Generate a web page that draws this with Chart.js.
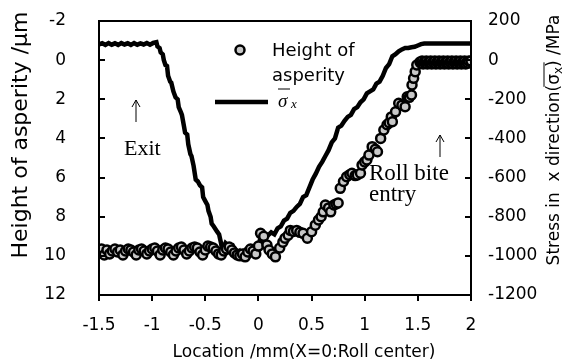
<!DOCTYPE html>
<html>
<head>
<meta charset="utf-8">
<script src="https://cdn.jsdelivr.net/npm/chart.js@4.4.0/dist/chart.umd.min.js"></script>
<style>
  html, body { margin: 0; padding: 0; background: #fff; }
  #wrap { width: 570px; height: 363px; }
</style>
</head>
<body>
<div id="wrap"><canvas id="chart" width="570" height="363"></canvas></div>
<script>
// ---------- data ----------
// stress sigma_x along the roll bite, MPa (right axis)
const stressX = [
  -1.5, -1.47, -1.44, -1.41, -1.38, -1.35, -1.32, -1.29, -1.26, -1.23, -1.2, -1.17, -1.14, -1.11, -1.08, -1.05, -1.02, -0.99, -0.96,
  -0.95, -0.93, -0.92, -0.9, -0.89, -0.875, -0.86, -0.85, -0.83, -0.82, -0.8, -0.78, -0.76, -0.75, -0.73, -0.72, -0.7, -0.69,
  -0.67, -0.66, -0.64, -0.63, -0.61, -0.59, -0.57, -0.55, -0.53, -0.52, -0.5, -0.48, -0.47, -0.45, -0.44, -0.42, -0.39, -0.37,
  -0.36, -0.35, -0.34, -0.33, -0.31, -0.3, -0.27, -0.24, -0.21, -0.18, -0.15, -0.12, -0.09, -0.06, -0.03, 0.0,
  0.02, 0.05, 0.08, 0.12, 0.15, 0.18, 0.21, 0.24, 0.27, 0.3, 0.33, 0.36, 0.39, 0.42, 0.45, 0.48, 0.51, 0.54, 0.57, 0.6,
  0.63, 0.66, 0.69, 0.72, 0.75, 0.78, 0.81, 0.84, 0.87, 0.9, 0.93, 0.96, 0.99, 1.02, 1.05, 1.08, 1.11, 1.14, 1.17, 1.2,
  1.23, 1.26, 1.29, 1.32, 1.35, 1.38, 1.41, 1.44, 1.47, 1.5, 1.53, 1.56, 2.0
];
const stressVal = [
  80, 86, 78, 87, 79, 86, 78, 87, 80, 86, 78, 87, 79, 86, 80, 88, 79, 88, 92,
  70, 62, 40, 30, 0, -25, -30, -80, -110, -115, -160, -190, -200, -240, -265, -280, -340, -370,
  -380, -430, -480, -490, -540, -610, -620, -640, -650, -700, -720, -740, -770, -800, -835, -850, -875, -890,
  -915, -940, -975, -960, -935, -940, -960, -950, -985, -975, -1010, -995, -1005, -990, -975, -960,
  -900, -930, -900, -880, -890, -860, -850, -820, -810, -780, -770, -750, -735, -700, -690, -650, -610, -580, -545, -520,
  -490, -460, -420, -400, -345, -335, -310, -290, -280, -250, -240, -215, -200, -170, -160, -150, -120, -110, -80, -40,
  -20, 20, 30, 45, 55, 62, 62, 66, 68, 75, 82, 85, 85
];

// height of asperity, um (left axis, reversed)
const heightX = [
  -1.5, -1.475, -1.45, -1.425, -1.4, -1.375, -1.35, -1.325, -1.3, -1.275, -1.25, -1.225, -1.2, -1.175, -1.15, -1.125,
  -1.1, -1.075, -1.05, -1.025, -1.0, -0.975, -0.95, -0.925, -0.9, -0.875, -0.85, -0.825, -0.8, -0.775, -0.75, -0.725,
  -0.7, -0.675, -0.65, -0.625, -0.6, -0.575, -0.55, -0.525, -0.5, -0.475, -0.45, -0.425, -0.4, -0.375, -0.35, -0.325,
  -0.3, -0.275, -0.25, -0.225, -0.2, -0.175, -0.15, -0.125, -0.1, -0.075, -0.05, -0.025, 0.0,
  0.02, 0.05, 0.08, 0.1, 0.13, 0.16, 0.2, 0.23, 0.25, 0.28, 0.3, 0.33, 0.36, 0.39, 0.42, 0.46, 0.5, 0.535, 0.565, 0.59,
  0.61, 0.63, 0.66, 0.68, 0.71, 0.73, 0.75, 0.77, 0.8, 0.83, 0.86, 0.88, 0.91, 0.93, 0.96, 0.975, 1.0, 1.02, 1.04, 1.07,
  1.1, 1.12, 1.15, 1.18, 1.21, 1.23, 1.25, 1.26, 1.29, 1.32, 1.35, 1.38, 1.4, 1.42, 1.44, 1.445, 1.46, 1.475, 1.49, 1.52,
  1.53, 1.54, 1.55, 1.56, 1.57, 1.58, 1.59, 1.6, 1.61, 1.62, 1.63, 1.64, 1.65, 1.66, 1.67, 1.68, 1.69, 1.7, 1.71, 1.72,
  1.73, 1.74, 1.75, 1.76, 1.77, 1.78, 1.79, 1.8, 1.81, 1.82, 1.83, 1.84, 1.85, 1.86, 1.87, 1.88, 1.89, 1.9, 1.91, 1.92,
  1.93, 1.94, 1.95, 1.96, 1.97, 1.98, 2.0
];
const heightVal = [
  9.75, 9.65, 9.95, 9.7, 9.9, 9.75, 9.65, 9.8, 9.7, 9.95, 9.75, 9.65, 9.7, 9.8, 9.95, 9.7,
  9.65, 9.75, 9.9, 9.75, 9.65, 9.6, 9.75, 9.95, 9.7, 9.6, 9.65, 9.8, 9.95, 9.75, 9.6, 9.55,
  9.7, 9.9, 9.75, 9.6, 9.55, 9.6, 9.8, 9.95, 9.7, 9.5, 9.55, 9.6, 9.75, 9.9, 9.95, 9.75,
  9.65, 9.55, 9.7, 9.85, 9.95, 10.0, 9.9, 10.05, 9.8, 9.65, 9.75, 9.9, 9.5,
  8.85, 9.0, 9.45, 9.7, 9.9, 10.05, 9.6, 9.3, 9.1, 8.95, 8.7, 8.75, 8.7, 8.8, 8.85, 9.1, 8.77, 8.43, 8.17, 8.0,
  7.75, 7.4, 7.55, 7.75, 7.4, 7.35, 7.3, 6.55, 6.2, 5.96, 5.85, 5.78, 5.9, 5.87, 5.78, 5.36, 5.2, 5.1, 4.85, 4.42,
  4.55, 4.68, 4.0, 3.57, 3.3, 3.2, 2.9, 3.15, 2.64, 2.2, 2.3, 2.38, 1.87, 1.9, 1.78, 1.27, 0.93, 0.59, 0.25, 0.1,
  0.15, 0.05, 0.2, 0.1, 0.15, 0.05, 0.2, 0.1, 0.15, 0.05, 0.2, 0.1, 0.15, 0.05, 0.2, 0.1, 0.15, 0.05, 0.2, 0.1,
  0.15, 0.05, 0.2, 0.1, 0.15, 0.05, 0.2, 0.1, 0.15, 0.05, 0.2, 0.1, 0.15, 0.05, 0.2, 0.1, 0.15, 0.05, 0.2, 0.1,
  0.15, 0.05, 0.2, 0.1, 0.15, 0.05, 0.05
];

const tickFont = { family: "DejaVu Sans", size: 17 };
const labelFont = "DejaVu Sans";
const serif = "Liberation Serif";

function arrowUp(ctx, x, top, bottom) {
  ctx.beginPath();
  ctx.moveTo(x, bottom); ctx.lineTo(x, top);
  ctx.moveTo(x - 4, top + 7); ctx.lineTo(x, top); ctx.lineTo(x + 4, top + 7);
  ctx.stroke();
}

// ---------- frame, ticks, titles, legend, notes ----------
const decorations = {
  id: "decorations",
  afterDraw(chart) {
    const ctx = chart.ctx;
    const a = chart.chartArea;
    const sx = chart.scales.x, yl = chart.scales.yL, yr = chart.scales.yR;
    ctx.save();
    ctx.strokeStyle = "#000";
    ctx.lineWidth = 2;
    ctx.strokeRect(a.left, a.top, a.right - a.left, a.bottom - a.top);

    ctx.beginPath();
    yl.ticks.forEach(t => {
      const y = Math.round(yl.getPixelForValue(t.value));
      if (y <= a.top + 1 || y >= a.bottom - 1) return;
      ctx.moveTo(a.left, y); ctx.lineTo(a.left + 6, y);
    });
    yr.ticks.forEach(t => {
      const y = Math.round(yr.getPixelForValue(t.value));
      if (y <= a.top + 1 || y >= a.bottom - 1) return;
      ctx.moveTo(a.right - 6, y); ctx.lineTo(a.right, y);
    });
    sx.ticks.forEach(t => {
      const x = Math.round(sx.getPixelForValue(t.value));
      ctx.moveTo(x, a.bottom); ctx.lineTo(x, a.bottom + 6);
    });
    ctx.stroke();

    ctx.fillStyle = "#000";
    // bottom title
    ctx.font = "17px " + labelFont;
    ctx.textAlign = "center";
    ctx.textBaseline = "middle";
    ctx.fillText("Location /mm(X=0:Roll center)", 304, 353);

    // left title
    ctx.save();
    ctx.translate(21, 135);
    ctx.rotate(-Math.PI / 2);
    ctx.font = "22px " + labelFont;
    ctx.fillText("Height of asperity /\u03bcm", 0, 0);
    ctx.restore();

    // right title, with overline over sigma_x
    ctx.save();
    ctx.translate(553, 140);
    ctx.rotate(-Math.PI / 2);
    ctx.textAlign = "left";
    ctx.textBaseline = "alphabetic";
    const big = "17px " + labelFont, small = "12px " + labelFont;
    const parts = [
      ["Stress in  x direction(", big, 0],
      ["\u03c3", big, 0],
      ["x", small, 3],
      [")", big, 0],
      [" /MPa", big, 0]
    ];
    let total = 0;
    parts.forEach(p => { ctx.font = p[1]; p.push(ctx.measureText(p[0]).width); total += p[3]; });
    let cx = -total / 2;
    let olStart = 0, olEnd = 0;
    parts.forEach((p, i) => {
      ctx.font = p[1];
      if (i === 1) olStart = cx - 2;
      ctx.fillText(p[0], cx, 6 + p[2]);
      cx += p[3];
      if (i === 3) olEnd = cx - 2;
    });
    ctx.lineWidth = 1;
    ctx.beginPath();
    ctx.moveTo(olStart, -9); ctx.lineTo(olEnd, -9);
    ctx.stroke();
    ctx.restore();

    // legend
    ctx.beginPath();
    ctx.arc(240, 50, 4.5, 0, Math.PI * 2);
    ctx.fillStyle = "#c8c8c8";
    ctx.fill();
    ctx.lineWidth = 2.5;
    ctx.stroke();
    ctx.fillStyle = "#000";
    ctx.font = "18px " + labelFont;
    ctx.textAlign = "left";
    ctx.textBaseline = "alphabetic";
    ctx.fillText("Height of", 272, 56);
    ctx.fillText("asperity", 272, 81);
    ctx.lineWidth = 4.5;
    ctx.beginPath();
    ctx.moveTo(215, 102); ctx.lineTo(268, 102);
    ctx.stroke();
    ctx.font = "italic 19px " + serif;
    ctx.fillText("\u03c3", 278, 107);
    ctx.font = "italic 13px " + serif;
    ctx.fillText("x", 291, 108);
    ctx.lineWidth = 1;
    ctx.beginPath();
    ctx.moveTo(278, 89); ctx.lineTo(290, 89);
    ctx.stroke();

    // notes
    ctx.lineWidth = 1;
    arrowUp(ctx, 136, 100, 122);
    arrowUp(ctx, 440, 135, 157);
    ctx.font = "22px " + serif;
    ctx.textAlign = "left";
    ctx.fillText("Exit", 124, 155);
    ctx.font = "23px " + serif;
    ctx.fillText("Roll bite", 369, 180);
    ctx.fillText("entry", 369, 201);
    ctx.restore();
  }
};

const plain = v => String(v);
// keep the tick padding from pushing the plot area down
const fixY = s => { s.width = 99; s.paddingTop = 0; s.paddingBottom = 0; };

new Chart(document.getElementById("chart"), {
  data: {
    datasets: [
      {
        type: "scatter",
        label: "Height of asperity",
        data: heightX.map((x, i) => ({ x: x, y: heightVal[i] })),
        yAxisID: "yL",
        pointRadius: 4.5,
        pointBackgroundColor: "#c8c8c8",
        pointBorderColor: "#000",
        pointBorderWidth: 2.5,
        order: 0
      },
      {
        type: "line",
        label: "sigma_x",
        data: stressX.map((x, i) => ({ x: x, y: stressVal[i] })),
        yAxisID: "yR",
        borderColor: "#000",
        borderWidth: 4.5,
        pointRadius: 0,
        tension: 0,
        order: 1
      }
    ]
  },
  options: {
    responsive: false,
    animation: false,
    devicePixelRatio: 1,
    layout: { padding: { top: 21 } },
    plugins: { legend: { display: false }, tooltip: { enabled: false } },
    scales: {
      x: {
        type: "linear", min: -1.5, max: 2,
        ticks: { stepSize: 0.5, font: tickFont, color: "#000", padding: 12, callback: plain },
        grid: { display: false }, border: { display: false },
        afterFit: s => { s.height = 68; }
      },
      yL: {
        type: "linear", position: "left", reverse: true, min: -2, max: 12,
        ticks: { stepSize: 2, font: tickFont, color: "#000", padding: 25, callback: plain },
        grid: { display: false }, border: { display: false },
        afterFit: fixY
      },
      yR: {
        type: "linear", position: "right", min: -1200, max: 200,
        ticks: { stepSize: 200, font: tickFont, color: "#000", padding: 9, callback: plain },
        grid: { display: false }, border: { display: false },
        afterFit: fixY
      }
    }
  },
  plugins: [decorations]
});
</script>
</body>
</html>
